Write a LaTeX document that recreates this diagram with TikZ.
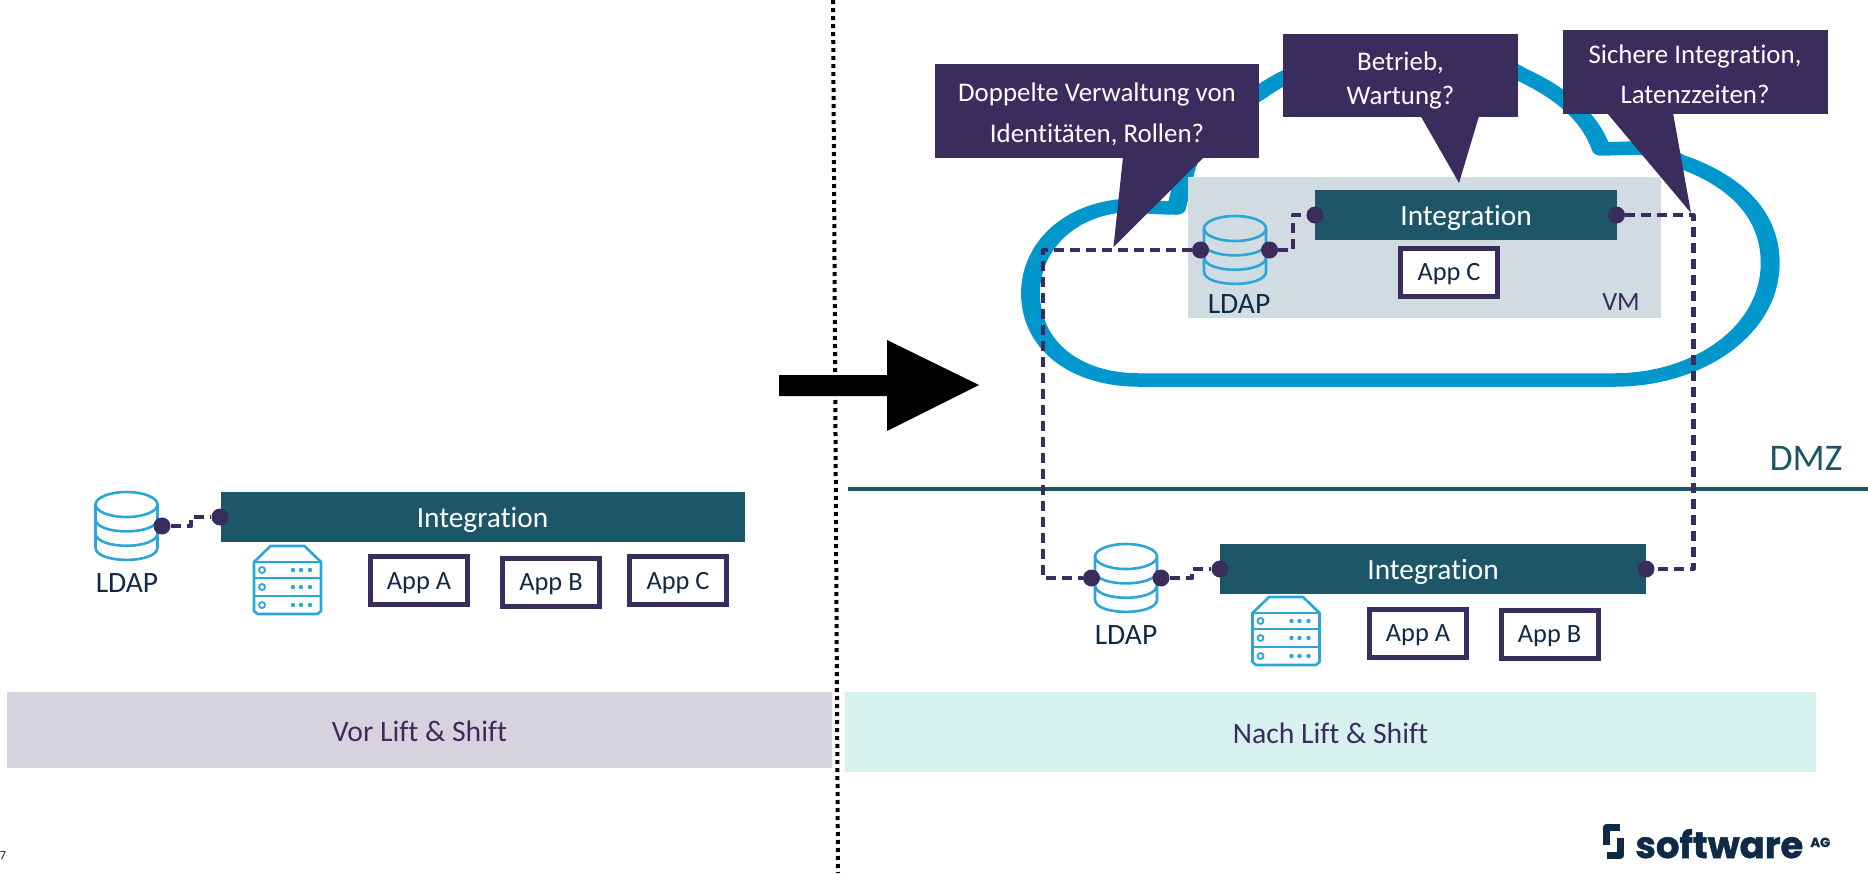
\documentclass[tikz,border=0pt]{standalone}
\usepackage{fontspec}
\setmainfont{Carlito}[Ligatures=CommonOff]
\newfontfamily\logofont{Poppins}[BoldFeatures={FakeBold=1.3}]
\usepackage{tikz}
\newcommand{\pxu}{0.02cm}
\definecolor{deeppurple}{HTML}{3B2C5E}
\definecolor{deepteal}{HTML}{1D5669}
\definecolor{cloudblue}{HTML}{0098CC}
\definecolor{iconblue}{HTML}{2BA6D6}
\definecolor{vmgrey}{HTML}{D1DCE2}
\definecolor{inkblue}{HTML}{0F2A47}
\definecolor{vorgrey}{HTML}{D6D3DF}
\definecolor{nachmint}{HTML}{D6F1EE}
\tikzset{
	intbox/.style={fill=deepteal,text=white,inner sep=0,text height=14.2pt,text depth=2.5pt,font=\fontsize{16.7}{20}\selectfont},
	appbox/.style={draw=deeppurple,fill=white,line width=5*\pxu,inner sep=0,minimum width=97*\pxu,minimum height=48*\pxu,text=inkblue,text height=13pt,text depth=2.8pt,font=\fontsize{15}{18}\selectfont},
	calloutbox/.style={fill=deeppurple,inner sep=0},
	asktext/.style={text=white,inner sep=0,align=center,font=\fontsize{15.3}{18}\selectfont},
	bandbox/.style={inner sep=0,text=deeppurple,text height=13.5pt,text depth=0pt,font=\fontsize{16.9}{20}\selectfont},
	dotnode/.style={circle,fill=deeppurple,inner sep=0,minimum size=17*\pxu},
	dashline/.style={draw=deeppurple,line width=4.6*\pxu,dash pattern=on 10*\pxu off 6*\pxu,line join=round},
	ldaplabel/.style={text=inkblue,inner sep=0,font=\fontsize{16.8}{19}\selectfont},
	pics/dbicon/.style={code={
		\draw[iconblue,line width=2.6*\pxu] (0,-21.5) ellipse [x radius=31,y radius=12.5];
		\draw[iconblue,line width=2.6*\pxu] (-31,-21.5) -- (-31,21.5) .. controls (-31,38) and (31,38) .. (31,21.5) -- (31,-21.5);
		\draw[iconblue,line width=2.6*\pxu] (-31,-7) .. controls (-31,9.5) and (31,9.5) .. (31,-7);
		\draw[iconblue,line width=2.6*\pxu] (-31,7) .. controls (-31,24) and (31,24) .. (31,7);
	}},
	pics/rackicon/.style={code={
		\draw[iconblue,line width=2.6*\pxu,line join=round] (-33.5,-19) -- (-17,-35) -- (17,-35) -- (33.5,-19) -- (33.5,30) -- (30,33) -- (-30,33) -- (-33.5,30) -- cycle;
		\draw[iconblue,line width=2.6*\pxu] (-33.5,-19) -- (33.5,-19);
		\draw[iconblue,line width=2.6*\pxu] (-33.5,-3) -- (33.5,-3);
		\draw[iconblue,line width=2.6*\pxu] (-33.5,15) -- (33.5,15);
		\foreach \rowy in {-11,6,24} {
			\draw[iconblue,line width=1.8*\pxu] (-25.5,\rowy) circle (3);
			\fill[iconblue] (5.5,\rowy) circle (2.2);
			\fill[iconblue] (13.5,\rowy) circle (2.2);
			\fill[iconblue] (22.5,\rowy) circle (2.2);
		}
	}},
}

\begin{document}
\begin{tikzpicture}[x=0.02cm,y=-0.02cm]
	\useasboundingbox (0,0) rectangle (1868,873);

	% bands at the bottom
	\node[bandbox,fill=vorgrey,minimum width=825*\pxu,minimum height=76*\pxu] (vorband) at (419.5,730) {Vor Lift \& Shift};
	\node[bandbox,fill=nachmint,minimum width=971*\pxu,minimum height=80*\pxu] (nachband) at (1330.5,732) {Nach Lift \& Shift};

	% divider and big arrow
	\coordinate (divtop) at (833,0);
	\coordinate (divbottom) at (838,873);
	\draw[black,line width=4*\pxu,dash pattern=on 4*\pxu off 4*\pxu] (divtop) -- (divbottom);
	\fill[black] (779,375) -- (887,375) -- (887,340) -- (979,385) -- (887,431) -- (887,396) -- (779,396) -- cycle;

	% DMZ
	\coordinate (dmzleft) at (848,488.5);
	\coordinate (dmzright) at (1868,488.5);
	\draw[deepteal,line width=4*\pxu] (dmzleft) -- (dmzright);
	\node[text=deepteal,inner sep=0,font=\fontsize{21.4}{25}\selectfont] (dmzlabel) at (1806,458) {DMZ};

	% cloud
	\begin{scope}[transform canvas={xscale=1.4},x=0.0142857cm]
		\draw[cloudblue,line width=13.5*\pxu,line join=round]
			(1140,380) -- (1615,380)
			.. controls (1700,380) and (1771,330) .. (1771,263)
			.. controls (1771,210) and (1730,178) .. (1680,161)
			.. controls (1665,152) and (1650,148) .. (1636,148)
			-- (1602,149)
			.. controls (1590,115) and (1560,92) .. (1521,74)
			.. controls (1470,42) and (1340,35) .. (1260,93)
			.. controls (1225,115) and (1195,140) .. (1186,170)
			-- (1177,208)
			.. controls (1160,208) and (1140,206) .. (1120,206)
			.. controls (1065,212) and (1031,250) .. (1031,293)
			.. controls (1031,345) and (1075,380) .. (1140,380) -- cycle;
	\end{scope}

	% VM inside the cloud
	\node[fill=vmgrey,inner sep=0,minimum width=473*\pxu,minimum height=141*\pxu] (vmbox) at (1424.5,247.5) {};
	\node[text=deeppurple,inner sep=0,font=\fontsize{15}{18}\selectfont] (vmlabel) at (1621,302) {VM};
	\node[intbox,minimum width=302*\pxu,minimum height=50*\pxu] (intc) at (1466,215) {Integration};
	\node[appbox] (appcc) at (1449,272) {App C};
	\pic at (1235,250) {dbicon};
	\node[ldaplabel] (ldapc) at (1239,304) {LDAP};

	% before
	\node[intbox,minimum width=524*\pxu,minimum height=50*\pxu] (inta) at (482.5,517) {Integration};
	\pic at (126.5,526) {dbicon};
	\node[ldaplabel] (ldapa) at (127,583) {LDAP};
	\pic at (287.5,581) {rackicon};
	\node[appbox] (appaa) at (419,580.5) {App A};
	\node[appbox] (appab) at (551,582) {App B};
	\node[appbox] (appac) at (678,580.5) {App C};

	% after, on premises
	\node[intbox,minimum width=426*\pxu,minimum height=50*\pxu] (intb) at (1433,569) {Integration};
	\pic at (1126,578) {dbicon};
	\node[ldaplabel] (ldapb) at (1126,635) {LDAP};
	\pic at (1286,632) {rackicon};
	\node[appbox] (appba) at (1418,633) {App A};
	\node[appbox] (appbb) at (1549.5,634) {App B};

	% callouts
	\fill[deeppurple] (1123,157) -- (1204,157) -- (1113.5,247) -- cycle;
	\fill[deeppurple] (1420.6,116) -- (1479,116) -- (1459,183) -- cycle;
	\fill[deeppurple] (1607,113) -- (1673,113) -- (1691,213) -- cycle;
	\node[calloutbox,minimum width=324.5*\pxu,minimum height=94*\pxu] (askleft) at (1096.75,111) {};
	\node[calloutbox,minimum width=235*\pxu,minimum height=83*\pxu] (askmid) at (1400.5,75.5) {};
	\node[calloutbox,minimum width=264.5*\pxu,minimum height=84*\pxu] (askright) at (1695.25,72) {};
	\node[asktext] (asklefttext) at (1097,114.5) {Doppelte Verwaltung von\\[5pt]Identitäten, Rollen?};
	\node[asktext] (askmidtext) at (1400.5,80.5) {Betrieb,\\[1.7pt]Wartung?};
	\node[asktext] (askrighttext) at (1695,74) {Sichere Integration,\\[5pt]Latenzzeiten?};

	% connection dots
	\node[dotnode] (dotaa) at (162,526) {};
	\node[dotnode] (dotab) at (220,517) {};
	\node[dotnode] (dotca) at (1200.5,250) {};
	\node[dotnode] (dotcb) at (1269.5,250) {};
	\node[dotnode] (dotcc) at (1315,215) {};
	\node[dotnode] (dotcd) at (1616.5,215) {};
	\node[dotnode] (dotba) at (1091.5,578) {};
	\node[dotnode] (dotbb) at (1161,578) {};
	\node[dotnode] (dotbc) at (1220,569) {};
	\node[dotnode] (dotbd) at (1646,569) {};
	\coordinate (bendaa) at (191,526);
	\coordinate (bendcb) at (1293,250);
	\coordinate (bendbb) at (1192,578);
	\coordinate (bendleftt) at (1043,250);
	\coordinate (bendleftb) at (1043,578);
	\coordinate (bendrightt) at (1693.5,215);
	\coordinate (bendrightb) at (1693.5,569);

	\draw[dashline] (dotaa) -- (bendaa) |- (dotab);
	\draw[dashline] (dotcb) -- (bendcb) |- (dotcc);
	\draw[dashline] (dotbb) -- (bendbb) |- (dotbc);
	\draw[dashline] (dotca) -- (bendleftt) -- (bendleftb) -- (dotba);
	\draw[dashline] (dotcd) -- (bendrightt) -- (bendrightb) -- (dotbd);

	% logo and page number
	\draw[inkblue,line width=7*\pxu,line join=round] (1620,827.5) -- (1606,827.5) -- (1606,845);
	\draw[inkblue,line width=7*\pxu,line join=round] (1620.5,838) -- (1620.5,855) -- (1607,855);
	\node[anchor=base west,inner sep=0,text=inkblue,font=\logofont\bfseries\fontsize{21}{24}\selectfont] (logotext) at (1635,858) {software};
	\node[anchor=base west,inner sep=0,text=inkblue,font=\logofont\bfseries\fontsize{7.5}{9}\selectfont] (logoag) at (1810,847) {AG};
	\node[inner sep=0,text=inkblue,font=\fontsize{7}{8}\selectfont] (pagenum) at (3,856) {7};
\end{tikzpicture}
\end{document}
